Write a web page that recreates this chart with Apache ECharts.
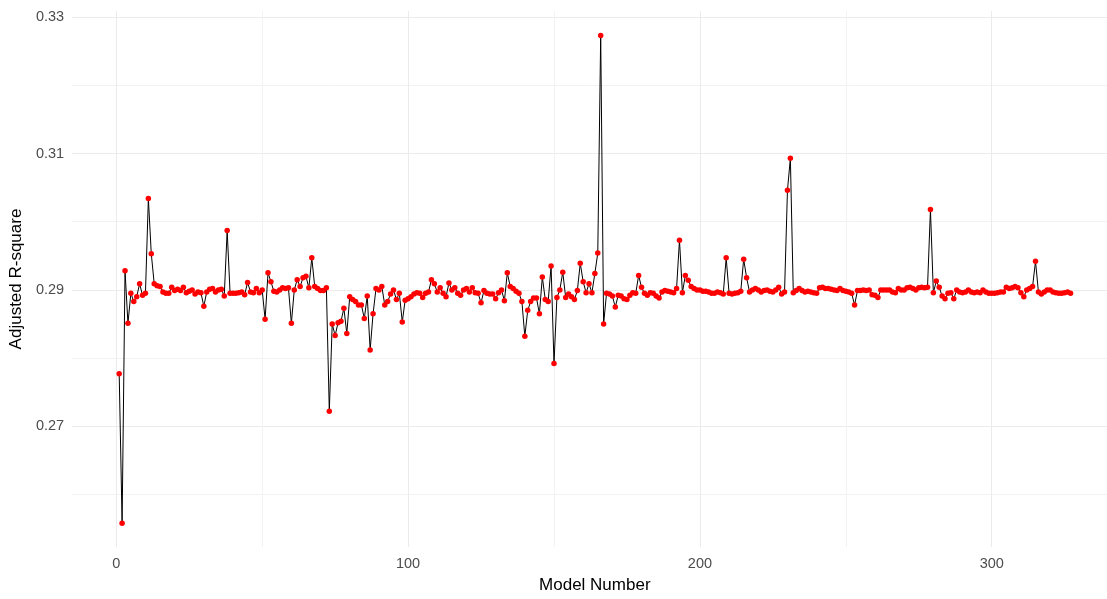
<!DOCTYPE html>
<html>
<head>
<meta charset="utf-8">
<script src="https://cdn.jsdelivr.net/npm/echarts@6/dist/echarts.min.js"></script>
<style>
html,body{margin:0;padding:0;background:#fff;}
#chart{width:1107px;height:599px;}
</style>
</head>
<body>
<div id="chart"></div>
<script>
// Adjusted R-square for models 1..327
const adjR2 = [
0.2777,0.2558,0.2928,0.2851,0.2895,0.2883,0.2890,0.2909,0.2892,0.2895,
0.3034,0.2953,0.2909,0.2906,0.2905,0.2897,0.2895,0.2895,0.2904,0.2899,
0.2901,0.2899,0.2904,0.2896,0.2898,0.2900,0.2894,0.2897,0.2896,0.2876,
0.2897,0.2901,0.2902,0.2897,0.2900,0.2901,0.2891,0.2987,0.2895,0.2895,
0.2895,0.2896,0.2897,0.2893,0.2911,0.2897,0.2896,0.2902,0.2896,0.2900,
0.2857,0.2925,0.2912,0.2898,0.2897,0.2900,0.2903,0.2902,0.2903,0.2851,
0.2900,0.2915,0.2905,0.2918,0.2920,0.2903,0.2947,0.2905,0.2902,0.2899,
0.2899,0.2903,0.2722,0.2850,0.2833,0.2852,0.2854,0.2873,0.2836,0.2890,
0.2886,0.2883,0.2878,0.2878,0.2858,0.2891,0.2812,0.2865,0.2902,0.2900,
0.2905,0.2878,0.2883,0.2894,0.2900,0.2886,0.2895,0.2853,0.2885,0.2887,
0.2890,0.2894,0.2896,0.2895,0.2889,0.2895,0.2897,0.2915,0.2909,0.2897,
0.2903,0.2895,0.2890,0.2910,0.2900,0.2903,0.2895,0.2892,0.2900,0.2902,
0.2897,0.2903,0.2896,0.2895,0.2881,0.2899,0.2895,0.2894,0.2894,0.2887,
0.2896,0.2900,0.2884,0.2925,0.2905,0.2902,0.2898,0.2895,0.2883,0.2832,
0.2870,0.2883,0.2888,0.2888,0.2865,0.2919,0.2886,0.2883,0.2935,0.2792,
0.2889,0.2900,0.2926,0.2889,0.2894,0.2890,0.2886,0.2899,0.2939,0.2912,
0.2896,0.2909,0.2896,0.2924,0.2954,0.3273,0.2850,0.2895,0.2894,0.2891,
0.2875,0.2892,0.2891,0.2887,0.2886,0.2892,0.2896,0.2895,0.2921,0.2904,
0.2895,0.2892,0.2896,0.2895,0.2891,0.2888,0.2897,0.2899,0.2898,0.2897,
0.2896,0.2902,0.2973,0.2896,0.2921,0.2914,0.2905,0.2902,0.2900,0.2900,
0.2898,0.2898,0.2897,0.2895,0.2895,0.2897,0.2896,0.2894,0.2947,0.2895,
0.2894,0.2895,0.2896,0.2898,0.2945,0.2918,0.2897,0.2900,0.2902,0.2900,
0.2897,0.2899,0.2900,0.2898,0.2897,0.2900,0.2904,0.2894,0.2897,0.3046,
0.3093,0.2896,0.2899,0.2902,0.2899,0.2897,0.2898,0.2897,0.2896,0.2895,
0.2903,0.2904,0.2902,0.2902,0.2901,0.2900,0.2899,0.2902,0.2899,0.2898,
0.2897,0.2895,0.2878,0.2899,0.2899,0.2900,0.2899,0.2900,0.2893,0.2892,
0.2889,0.2900,0.2900,0.2900,0.2900,0.2897,0.2896,0.2902,0.2900,0.2900,
0.2903,0.2904,0.2902,0.2900,0.2903,0.2904,0.2903,0.2904,0.3018,0.2896,
0.2913,0.2904,0.2891,0.2887,0.2895,0.2896,0.2887,0.2900,0.2897,0.2896,
0.2897,0.2900,0.2897,0.2896,0.2897,0.2896,0.2900,0.2897,0.2895,0.2895,
0.2895,0.2896,0.2897,0.2897,0.2904,0.2902,0.2903,0.2905,0.2903,0.2896,
0.2890,0.2900,0.2902,0.2905,0.2942,0.2897,0.2894,0.2897,0.2900,0.2900,
0.2897,0.2896,0.2895,0.2895,0.2896,0.2897,0.2895
];
const xMajorTicks = [0, 100, 200, 300];
const xMinorTicks = [50, 150, 250];
const yMajorTicks = [0.27, 0.29, 0.31, 0.33];
const yMinorTicks = [0.26, 0.28, 0.30, 0.32];

const points = adjR2.map((v, i) => [i + 1, v]);

const FONT = '"Liberation Sans", Arial, sans-serif';
const XMIN = -15.3, XMAX = 339.5, YMIN = 0.2523, YMAX = 0.3309;

const chart = echarts.init(document.getElementById('chart'), null, {renderer: 'canvas'});
chart.setOption({
  animation: false,
  backgroundColor: '#ffffff',
  grid: {left: 69.6, right: 0, top: 11, bottom: 45.7, containLabel: false},
  xAxis: [
    {
      type: 'value', min: XMIN, max: XMAX, position: 'bottom',
      axisLine: {show: false},
      axisTick: {show: false, customValues: xMajorTicks},
      axisLabel: {customValues: xMajorTicks, color: '#4d4d4d', fontSize: 14.5, fontFamily: FONT, margin: 9},
      splitLine: {show: true, lineStyle: {color: '#ebebeb', width: 1}},
      name: 'Model Number', nameLocation: 'middle', nameGap: 30,
      nameTextStyle: {color: '#000000', fontSize: 17, fontFamily: FONT, padding: [0, 0, 0, 11]}
    },
    {
      type: 'value', min: XMIN, max: XMAX, position: 'top',
      axisLine: {show: false},
      axisTick: {show: false, customValues: xMinorTicks},
      axisLabel: {show: false, customValues: xMinorTicks},
      splitLine: {show: true, lineStyle: {color: '#f2f2f2', width: 1}}
    }
  ],
  yAxis: [
    {
      type: 'value', min: YMIN, max: YMAX, position: 'left',
      axisLine: {show: false},
      axisTick: {show: false, customValues: yMajorTicks},
      axisLabel: {customValues: yMajorTicks, color: '#4d4d4d', fontSize: 14.5, fontFamily: FONT, margin: 7.5,
        formatter: v => v.toFixed(2)},
      splitLine: {show: true, lineStyle: {color: '#ebebeb', width: 1}},
      name: 'Adjusted R-square', nameLocation: 'middle', nameGap: 38, nameRotate: 90,
      nameTextStyle: {color: '#000000', fontSize: 17, fontFamily: FONT}
    },
    {
      type: 'value', min: YMIN, max: YMAX, position: 'right',
      axisLine: {show: false},
      axisTick: {show: false, customValues: yMinorTicks},
      axisLabel: {show: false, customValues: yMinorTicks},
      splitLine: {show: true, lineStyle: {color: '#f2f2f2', width: 1}}
    }
  ],
  series: [{
    type: 'line',
    xAxisIndex: 0, yAxisIndex: 0,
    data: points,
    showAllSymbol: true,
    symbol: 'circle',
    symbolSize: 5.5,
    itemStyle: {color: '#ff0000', borderWidth: 0},
    lineStyle: {color: '#000000', width: 1},
    emphasis: {disabled: true},
    z: 5
  }]
});
</script>
</body>
</html>
